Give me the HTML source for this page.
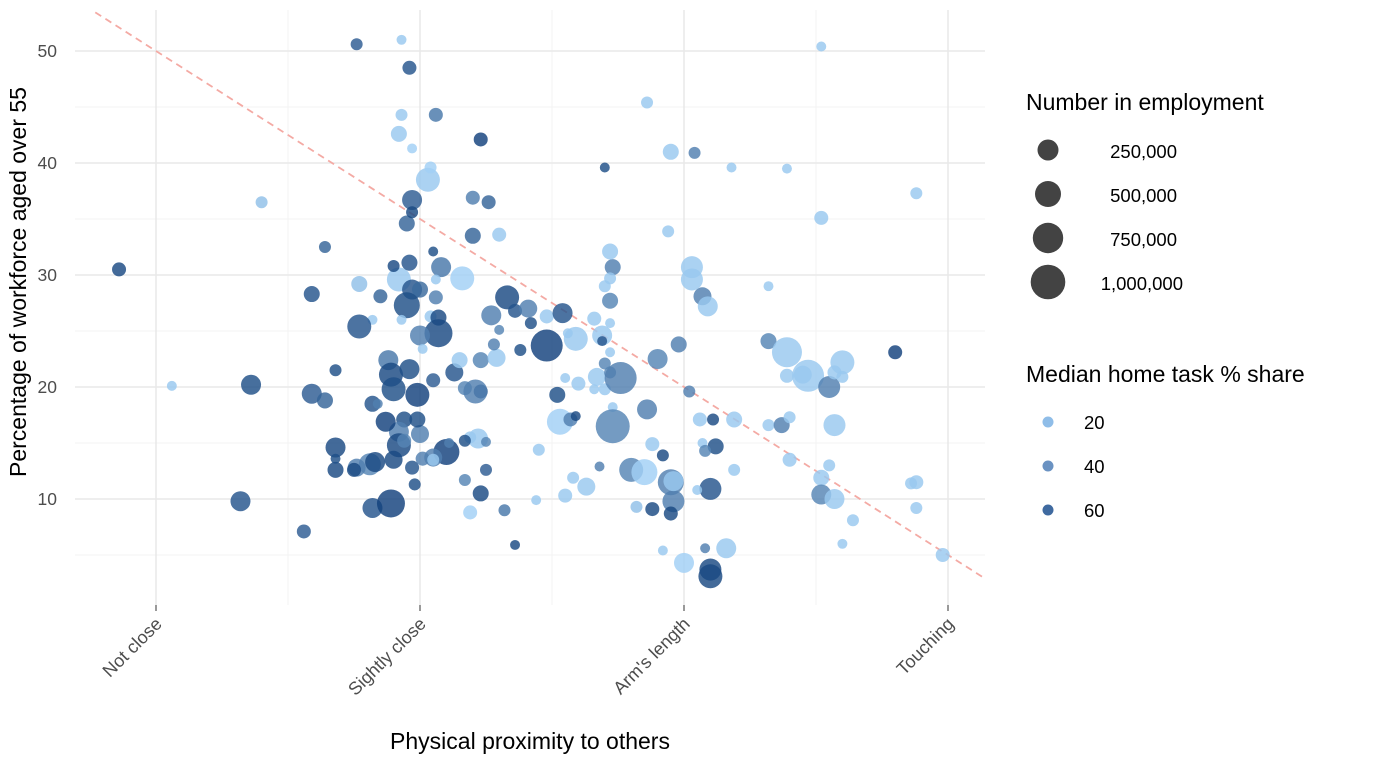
<!DOCTYPE html>
<html><head><meta charset="utf-8"><style>
html,body{margin:0;padding:0;background:#fff;}
svg{display:block;font-family:"Liberation Sans",Arial,sans-serif;}
</style></head><body>
<svg id="chart" width="1381" height="762" viewBox="0 0 1381 762">
<g id="grid"></g>
<g id="refline"></g>
<g id="points"></g>
<g id="axes"></g>
<text x="530" y="749" font-size="23" text-anchor="middle" fill="#000">Physical proximity to others</text>
<text transform="translate(26,282) rotate(-90)" font-size="23" text-anchor="middle" fill="#000">Percentage of workforce aged over 55</text>
<g>
<text x="1026" y="110" font-size="23" fill="#000">Number in employment</text>
<circle cx="1048" cy="150" r="10.5" fill="#333" fill-opacity="0.92"/>
<circle cx="1048" cy="194" r="13" fill="#333" fill-opacity="0.92"/>
<circle cx="1048" cy="238" r="15.2" fill="#333" fill-opacity="0.92"/>
<circle cx="1048" cy="282" r="17.3" fill="#333" fill-opacity="0.92"/>
<text x="1177" y="158" font-size="18.5" text-anchor="end">250,000</text>
<text x="1177" y="202" font-size="18.5" text-anchor="end">500,000</text>
<text x="1177" y="246" font-size="18.5" text-anchor="end">750,000</text>
<text x="1183" y="290" font-size="18.5" text-anchor="end">1,000,000</text>
</g>
<g>
<text x="1026" y="382" font-size="23" fill="#000">Median home task % share</text>
<circle cx="1048" cy="422" r="5.5" fill="#8fbde8"/>
<circle cx="1048" cy="466" r="5.5" fill="#6a92c2"/>
<circle cx="1048" cy="510" r="5.5" fill="#3f6aa0"/>
<text x="1084" y="429" font-size="18.5">20</text>
<text x="1084" y="473" font-size="18.5">40</text>
<text x="1084" y="517" font-size="18.5">60</text>
</g>
</svg>
<script>
const categories = ["Not close","Sightly close","Arm's length","Touching"];
const yTicks = [10,20,30,40,50];
const prox = [0.86,1.06,1.40,1.36,1.32,1.56,1.59,1.64,1.59,1.64,1.76,1.93,1.96,1.93,1.92,1.97,2.06,2.23,2.03,2.04,1.97,1.95,1.97,2.20,2.26,2.20,2.30,2.05,2.08,2.16,1.92,1.97,1.77,1.85,1.90,1.96,2.00,2.06,2.06,1.95,2.04,2.07,2.07,2.00,2.01,1.93,1.82,1.77,1.68,1.88,1.89,1.90,1.96,1.99,2.05,2.13,2.15,2.17,2.23,2.23,2.21,2.27,2.33,2.36,2.41,2.48,2.54,2.59,2.48,2.42,2.30,2.29,2.38,2.28,2.22,2.19,2.25,2.25,2.23,2.19,2.17,2.17,2.10,2.05,2.00,2.01,1.99,1.94,1.92,1.92,1.87,1.82,1.84,1.94,1.90,1.81,1.83,1.76,1.75,1.68,1.68,1.68,1.82,1.89,1.98,1.97,2.05,2.11,2.32,2.36,2.44,2.45,2.53,2.57,2.59,2.55,2.52,2.60,2.66,2.67,2.70,2.70,2.72,2.73,2.73,2.76,2.68,2.63,2.58,2.55,2.80,2.85,2.86,2.88,2.82,2.88,2.92,2.95,2.96,2.95,2.96,3.00,2.92,3.08,3.10,3.10,3.16,3.10,3.05,3.12,3.07,3.08,3.06,3.11,3.19,3.19,2.90,2.98,3.02,2.72,2.69,2.56,2.66,2.69,2.72,2.72,2.73,2.72,2.72,2.70,2.70,2.86,2.95,3.04,2.94,3.03,3.03,3.07,3.09,3.18,3.39,3.52,3.88,3.52,3.32,3.32,3.39,3.45,3.47,3.39,3.55,3.57,3.60,3.60,3.80,3.57,3.32,3.37,3.40,3.40,3.55,3.52,3.52,3.57,3.64,3.60,3.88,3.86,3.88,3.98];
const pct = [30.5,20.1,36.5,20.2,9.8,7.1,19.4,18.8,28.3,32.5,50.6,51.0,48.5,44.3,42.6,41.3,44.3,42.1,38.5,39.6,36.7,34.6,35.6,36.9,36.5,33.5,33.6,32.1,30.7,29.7,29.6,28.7,29.2,28.1,30.8,31.1,28.7,29.6,28.0,27.3,26.3,26.2,24.8,24.6,23.4,26.0,26.0,25.4,21.5,22.4,21.1,19.8,21.6,19.3,20.6,21.3,22.4,19.9,22.4,19.6,19.6,26.4,28.0,26.8,27.0,26.3,26.6,24.3,23.7,25.7,25.1,22.6,23.3,23.8,15.4,15.5,15.1,12.6,10.5,8.8,11.7,15.2,14.2,13.7,15.8,13.6,17.1,17.1,16.0,14.8,16.9,18.5,18.5,15.2,13.5,13.1,13.3,12.8,12.6,14.6,12.6,13.6,9.2,9.6,11.3,12.8,13.5,15.0,9.0,5.9,9.9,14.4,16.9,17.1,17.4,20.8,19.3,20.3,19.8,20.9,19.8,22.1,21.3,18.2,16.5,20.8,12.9,11.1,11.9,10.3,12.6,12.4,18.0,14.9,9.3,9.1,13.9,11.5,9.8,8.7,11.6,4.3,5.4,5.6,3.7,3.1,5.6,10.9,10.8,14.7,15.0,14.3,17.1,17.1,17.1,12.6,22.5,23.8,19.6,23.1,24.6,24.8,26.1,24.1,25.7,27.7,30.7,32.1,29.7,29.0,39.6,45.4,41.0,40.9,33.9,30.7,29.6,28.1,27.2,39.6,39.5,50.4,37.3,35.1,29.0,24.1,23.1,21.1,21.0,21.0,20.0,21.3,22.2,20.9,23.1,16.6,16.6,16.6,17.3,13.5,13.0,11.9,10.4,10.0,8.1,6.0,11.5,11.4,9.2,5.0];
const emp = [82,20,46,250,250,82,250,128,128,46,46,20,82,46,128,20,82,82,413,46,250,128,46,82,82,128,82,20,250,413,413,250,128,82,46,128,128,20,82,510,46,128,617,250,20,20,20,413,46,250,413,413,250,413,82,184,128,82,128,82,413,250,413,82,184,82,250,413,862,46,20,184,46,46,250,46,20,46,128,82,46,46,510,184,184,82,128,128,250,413,250,128,20,82,184,327,250,184,82,250,128,20,250,617,46,82,46,20,46,20,20,46,510,82,20,20,128,82,20,184,46,46,46,20,1000,862,20,184,46,82,413,510,250,82,46,82,46,510,327,82,250,250,20,20,327,413,250,327,20,128,20,46,82,46,128,46,250,128,46,20,250,20,82,20,20,128,128,128,46,46,20,46,128,46,46,327,327,184,250,20,20,20,46,82,20,128,735,184,862,82,327,82,413,46,82,327,46,128,46,82,46,128,250,250,46,20,82,46,46,82];
const home = [62,15,18,60,58,55,55,52,58,52,55,15,58,15,15,12,45,65,15,12,55,52,62,42,52,52,15,60,45,12,15,58,18,52,62,58,50,15,42,60,15,62,62,42,15,15,15,58,60,45,62,60,60,65,55,58,15,40,40,62,42,42,62,58,42,15,58,15,65,60,40,15,60,42,15,15,40,55,62,12,40,60,65,42,42,42,60,60,42,62,65,58,42,40,62,40,62,42,62,62,62,60,58,65,60,58,15,42,45,62,15,15,12,42,62,15,60,15,15,15,15,40,40,15,40,42,42,15,15,15,40,12,42,15,18,62,62,42,42,62,15,12,15,42,62,62,15,58,15,60,15,40,15,62,15,15,40,42,42,15,15,15,15,58,15,40,42,15,15,15,60,15,15,42,15,15,15,42,15,15,15,15,15,15,15,40,15,15,15,15,42,15,15,15,65,15,15,42,15,15,15,15,40,15,15,15,15,15,15,15];

const NS='http://www.w3.org/2000/svg';
const PX0=75, PX1=985, PY0=10, PY1=605;
function xs(v){return 156+(v-1)*264;}
function ys(v){return 611-v*11.2;}
function rs(k){return 3+14*Math.sqrt(k/1000);}
function col(h){
  const t=Math.max(0,Math.min(1,(h-10)/60));
  const a=[166,213,250], b=[4,52,112];
  return 'rgb('+a.map((c,i)=>Math.round(c+(b[i]-c)*t)).join(',')+')';
}
function mk(tag,attrs,parent){const e=document.createElementNS(NS,tag);for(const k in attrs)e.setAttribute(k,attrs[k]);parent.appendChild(e);return e;}
const grid=document.getElementById('grid');
for(let v=5;v<=55;v+=10){const y=ys(v);if(y<PY0||y>PY1)continue;
  const l=mk('line',{x1:PX0,x2:PX1,y1:y,y2:y,stroke:'#f3f3f3','stroke-width':1},grid);
  
  }
for(let i=0;i<categories.length-1;i++){const x=xs(i+1.5);
  const l=mk('line',{x1:x,x2:x,y1:PY0,y2:PY1,stroke:'#f3f3f3','stroke-width':1},grid);
  
  }
yTicks.forEach(v=>{const y=ys(v);
  const l=mk('line',{x1:PX0,x2:PX1,y1:y,y2:y,stroke:'#e9e9e9','stroke-width':1.6},grid);
  
  });
categories.forEach((c,i)=>{const x=xs(i+1);
  const l=mk('line',{x1:x,x2:x,y1:PY0,y2:PY1,stroke:'#e9e9e9','stroke-width':1.6},grid);
  
  });
const rl=document.getElementById('refline');
const xa=0.77, xb=4.14;
const ref=mk('line',{x1:xs(xa),y1:ys(50-15*(xa-1)),x2:xs(xb),y2:ys(50-15*(xb-1)),stroke:'#f4aaa4','stroke-width':1.8,'stroke-dasharray':'7,5'},rl);


const pg=document.getElementById('points');
for(let i=0;i<prox.length;i++){
  const c=mk('circle',{cx:xs(prox[i]),cy:ys(pct[i]),r:rs(emp[i]),fill:col(home[i]),'fill-opacity':0.82},pg);
  
  
}
const ax=document.getElementById('axes');
yTicks.forEach(v=>{
  const t=mk('text',{x:57,y:ys(v)+6,'font-size':17.5,'text-anchor':'end',fill:'#4d4d4d'},ax);
  t.textContent=v;
  
  
});
categories.forEach((c,i)=>{
  const x=xs(i+1);
  const tk=mk('line',{x1:x,x2:x,y1:605,y2:611,stroke:'#333','stroke-width':1},ax);
  
  
  const t=mk('text',{transform:'translate('+(x+7)+',625) rotate(-45)','font-size':18,'text-anchor':'end',fill:'#4d4d4d'},ax);
  t.textContent=c;
  
  
});
</script>
</body></html>
